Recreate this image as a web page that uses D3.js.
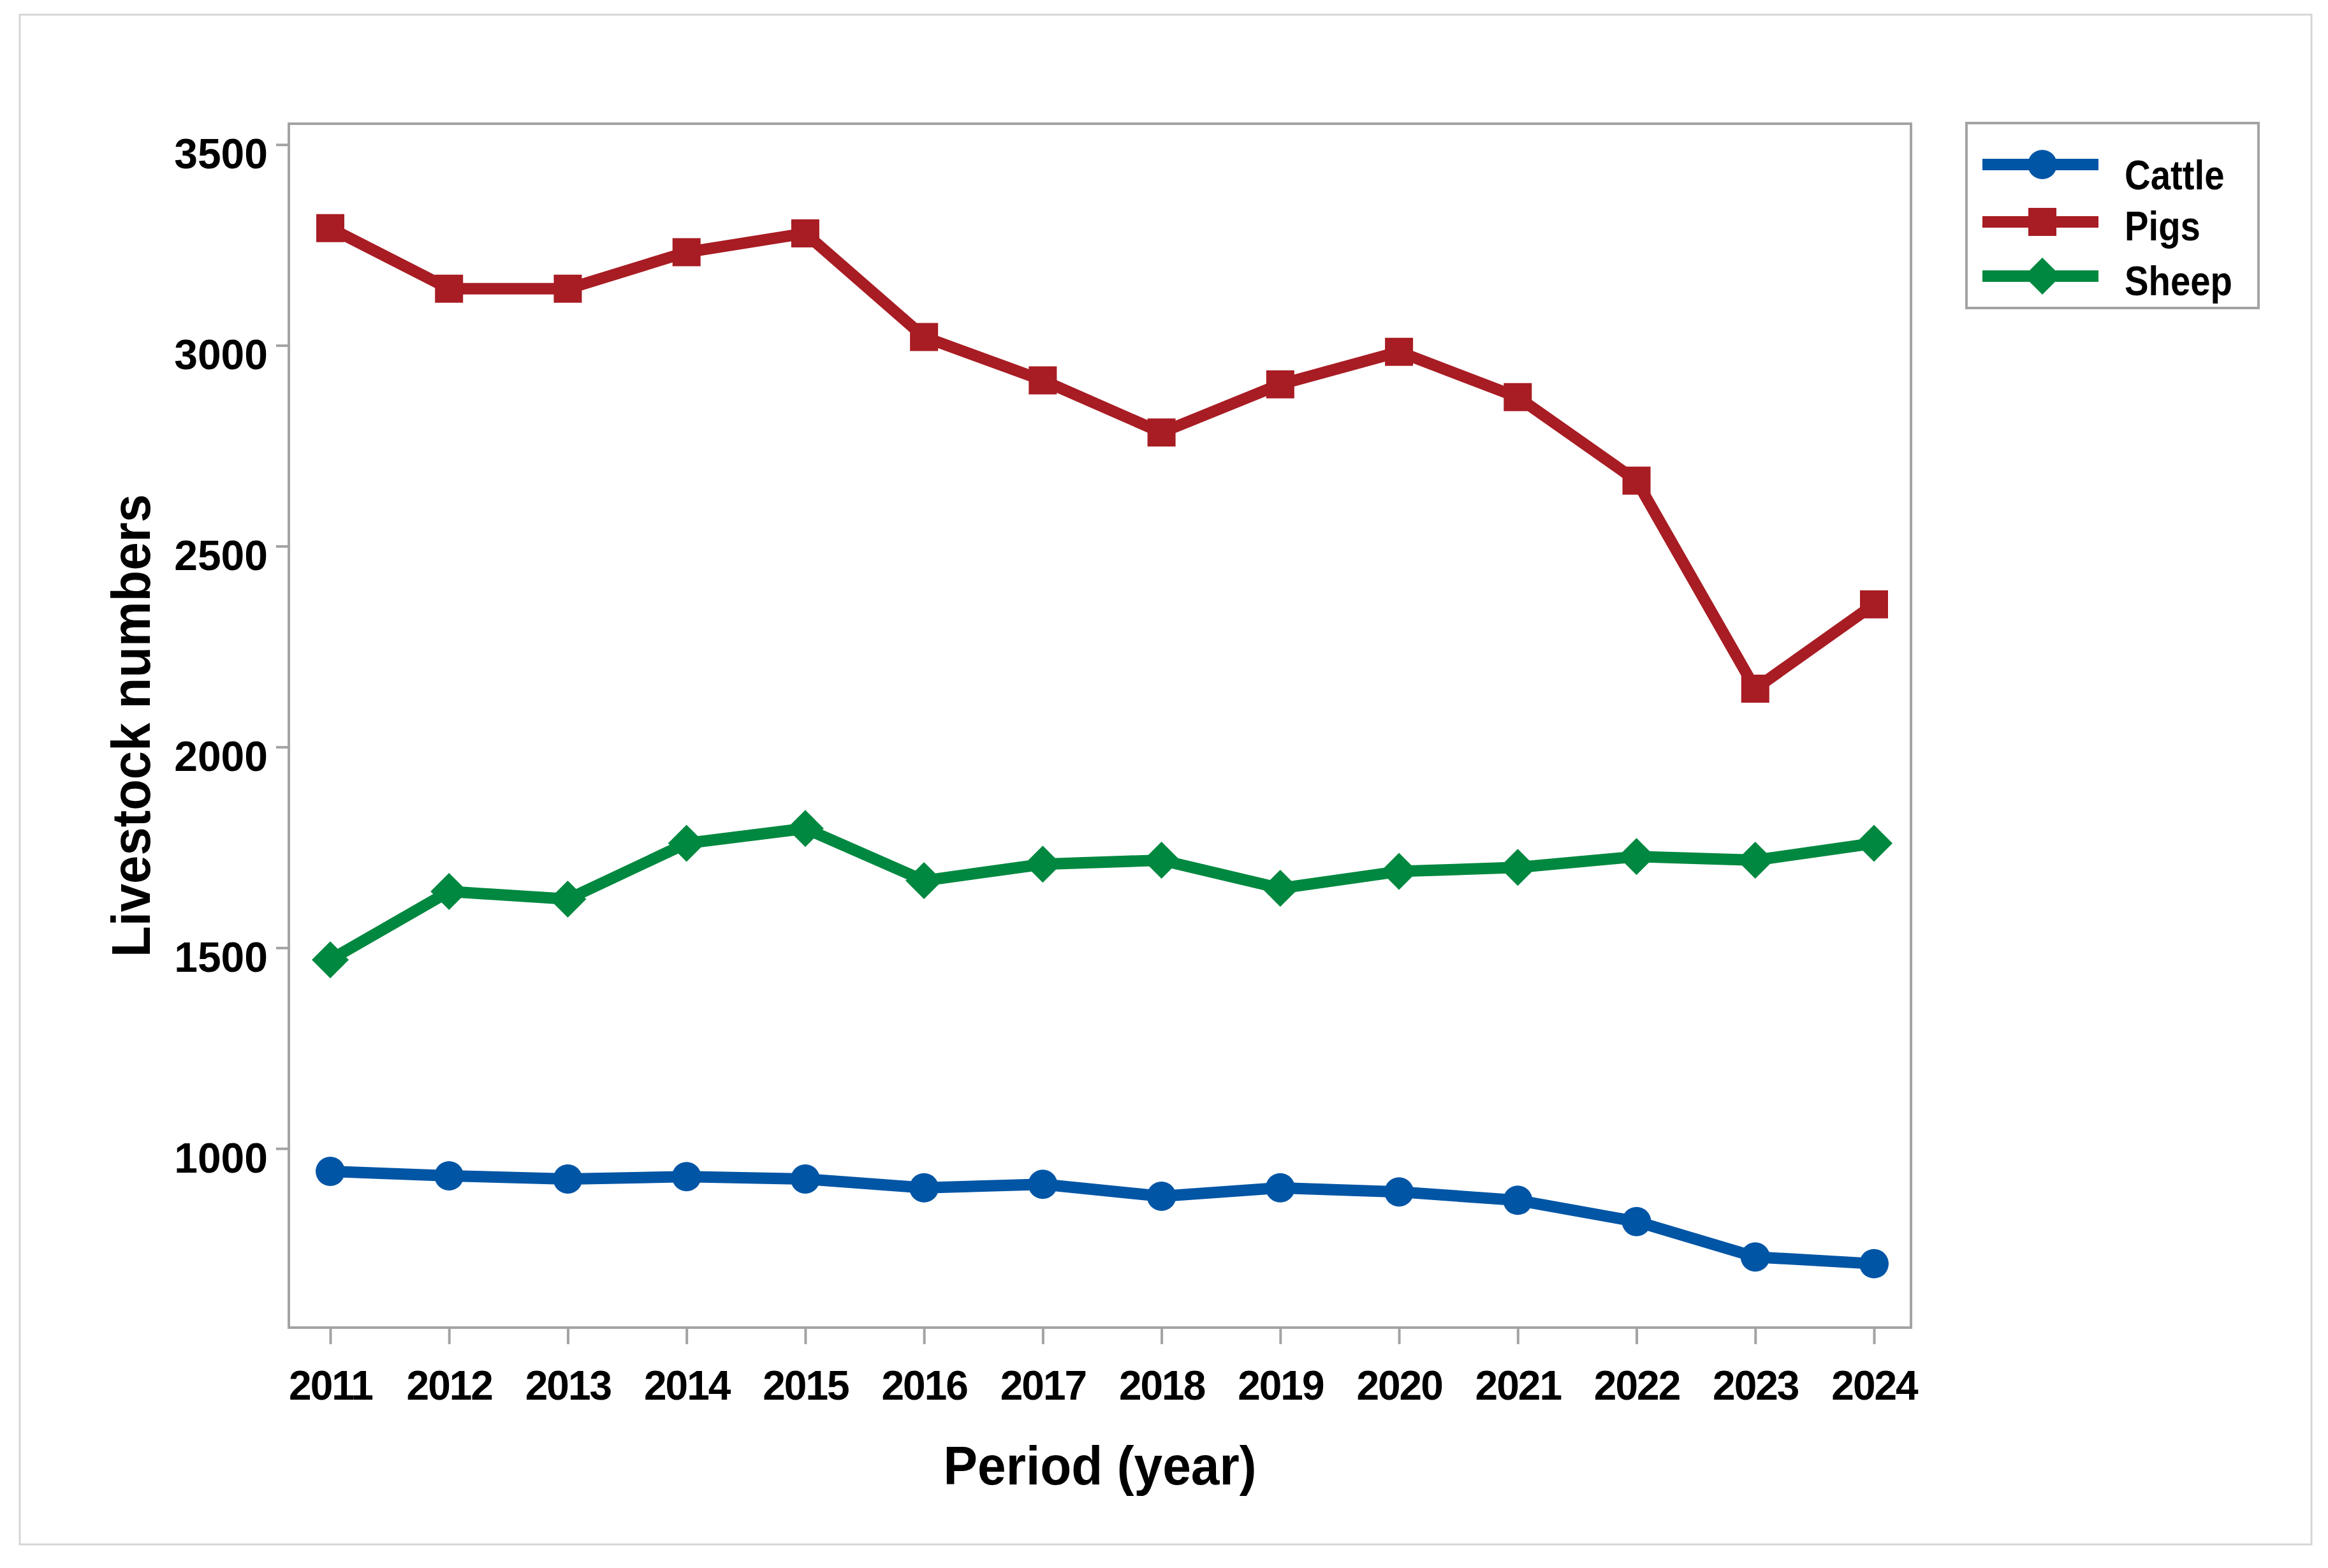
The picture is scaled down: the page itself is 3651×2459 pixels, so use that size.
<!DOCTYPE html>
<html>
<head>
<meta charset="utf-8">
<script src="https://cdn.jsdelivr.net/npm/d3@7"></script>
<style>
   html, body { margin: 0; padding: 0; background: #ffffff; }
   svg { display: block; }
   .axis text { font-family: "Liberation Sans", Arial, sans-serif; font-weight: bold; fill: #000; }
   .axis line { stroke: #a3a3a3; stroke-width: 4; }
</style>
</head>
<body>
<div id="chart"></div>
<script>
// values
var years = [2011, 2012, 2013, 2014, 2015, 2016, 2017, 2018, 2019, 2020, 2021, 2022, 2023, 2024];
var cattle = [943, 932, 924, 930, 924, 902, 911, 881, 902, 892, 871, 818, 730, 713];
var pigs = [3292, 3141, 3141, 3232, 3279, 3021, 2913, 2783, 2903, 2984, 2871, 2663, 2145, 2355];
var sheep = [1470, 1640, 1621, 1760, 1797, 1667, 1708, 1718, 1648, 1690, 1700, 1727, 1718, 1760];
var seriesNames = ["Cattle", "Pigs", "Sheep"];
var yTicks = [1000, 1500, 2000, 2500, 3000, 3500];

var w = 3651;
var h = 2459;

// plot frame
var plotLeft = 453, plotRight = 2997, plotTop = 194, plotBottom = 2082;

var colors = ["#0055a5", "#a81c23", "#008840"];
var shapes = ["circle", "square", "diamond"];

var seriesData = [cattle, pigs, sheep].map(function(vals, i) {
   return {
      name: seriesNames[i],
      color: colors[i],
      shape: shapes[i],
      points: vals.map(function(v, j) { return {year: years[j], value: v}; })
   };
});

var xScale = d3.scalePoint()
            .domain(years)
            .range([518, 2939]);

var yScale = d3.scaleLinear()
            .domain([554, 3552])
            .range([plotBottom, plotTop]);

var svg = d3.select("#chart")
         .append("svg")
         .attr("width", w)
         .attr("height", h);

//outer frame
svg.append("rect")
   .attr("x", 31)
   .attr("y", 23)
   .attr("width", 3625 - 31)
   .attr("height", 2422 - 23)
   .attr("fill", "none")
   .attr("stroke", "#d6d6d6")
   .attr("stroke-width", 3);

//axes
var yAxis = d3.axisLeft(yScale)
            .tickValues(yTicks)
            .tickSize(20)
            .tickPadding(13)
            .tickFormat(d3.format("d"));

var xAxis = d3.axisBottom(xScale)
            .tickSize(26)
            .tickFormat(function(d) { return String(d); });

var gy = svg.append("g")
   .attr("class", "axis")
   .attr("transform", "translate(" + plotLeft + ",0)")
   .call(yAxis);
gy.select(".domain").remove();
gy.selectAll("text")
   .attr("dy", 37)
   .style("font-size", "66px");

var gx = svg.append("g")
   .attr("class", "axis")
   .attr("transform", "translate(0," + plotBottom + ")")
   .call(xAxis);
gx.select(".domain").remove();
gx.selectAll("text")
   .attr("y", 113)
   .attr("dy", 0)
   .style("font-size", "64px")
   .style("letter-spacing", "-2px");

//plot border
svg.append("rect")
   .attr("x", plotLeft)
   .attr("y", plotTop)
   .attr("width", plotRight - plotLeft)
   .attr("height", plotBottom - plotTop)
   .attr("fill", "none")
   .attr("stroke", "#a3a3a3")
   .attr("stroke-width", 4);

//axis titles
svg.append("text")
   .attr("x", (plotLeft + plotRight) / 2)
   .attr("y", 2328)
   .attr("text-anchor", "middle")
   .attr("textLength", 491)
   .attr("lengthAdjust", "spacingAndGlyphs")
   .style("font-family", "Liberation Sans, Arial, sans-serif")
   .style("font-weight", "bold")
   .style("font-size", "86px")
   .text("Period (year)");

svg.append("text")
   .attr("transform", "translate(235," + ((plotTop + plotBottom) / 2) + ") rotate(-90)")
   .attr("text-anchor", "middle")
   .attr("textLength", 726)
   .attr("lengthAdjust", "spacingAndGlyphs")
   .style("font-family", "Liberation Sans, Arial, sans-serif")
   .style("font-weight", "bold")
   .style("font-size", "86px")
   .text("Livestock numbers");

function drawMarker(g, shape, color) {
   if (shape == "circle") {
      g.append("circle").attr("r", 23).attr("fill", color);
   } else if (shape == "square") {
      g.append("path").attr("d", d3.symbol().type(d3.symbolSquare).size(44 * 44)()).attr("fill", color);
   } else {
      g.append("path").attr("d", d3.symbol().type(d3.symbolSquare).size(41 * 41)())
         .attr("transform", "rotate(45)")
         .attr("fill", color);
   }
}

var line = d3.line()
         .x(function(d) { return xScale(d.year); })
         .y(function(d) { return yScale(d.value); });

//lines and markers
var series = svg.selectAll(".series")
   .data(seriesData)
   .enter()
   .append("g")
   .attr("class", "series");

series.append("path")
   .attr("d", function(d) { return line(d.points); })
   .attr("fill", "none")
   .attr("stroke", function(d) { return d.color; })
   .attr("stroke-width", 18)
   .attr("stroke-linejoin", "round");

series.each(function(s) {
   d3.select(this).selectAll(".pt")
      .data(s.points)
      .enter()
      .append("g")
      .attr("class", "pt")
      .attr("transform", function(d) {
         return "translate(" + xScale(d.year) + "," + yScale(d.value) + ")";
      })
      .each(function() { drawMarker(d3.select(this), s.shape, s.color); });
});

//legend
var legend = svg.append("g");
legend.append("rect")
   .attr("x", 3084)
   .attr("y", 193)
   .attr("width", 3542 - 3084)
   .attr("height", 483 - 193)
   .attr("fill", "#fff")
   .attr("stroke", "#a3a3a3")
   .attr("stroke-width", 4);

var legendY = [258, 348, 433];
var legendBase = [297, 377, 463];
seriesData.forEach(function(s, i) {
   legend.append("line")
      .attr("x1", 3109)
      .attr("x2", 3291)
      .attr("y1", legendY[i])
      .attr("y2", legendY[i])
      .attr("stroke", s.color)
      .attr("stroke-width", 18);
   var m = legend.append("g").attr("transform", "translate(3203," + legendY[i] + ")");
   drawMarker(m, s.shape, s.color);
   var t = legend.append("text")
      .attr("x", 3332)
      .attr("y", legendBase[i])
      .style("font-family", "Liberation Sans, Arial, sans-serif")
      .style("font-weight", "bold")
      .style("font-size", "64px")
      .text(s.name);
   // the reference legend font is narrower
   var len = t.node().getComputedTextLength();
   t.attr("textLength", len * 0.88).attr("lengthAdjust", "spacingAndGlyphs");
});
</script>
</body>
</html>
